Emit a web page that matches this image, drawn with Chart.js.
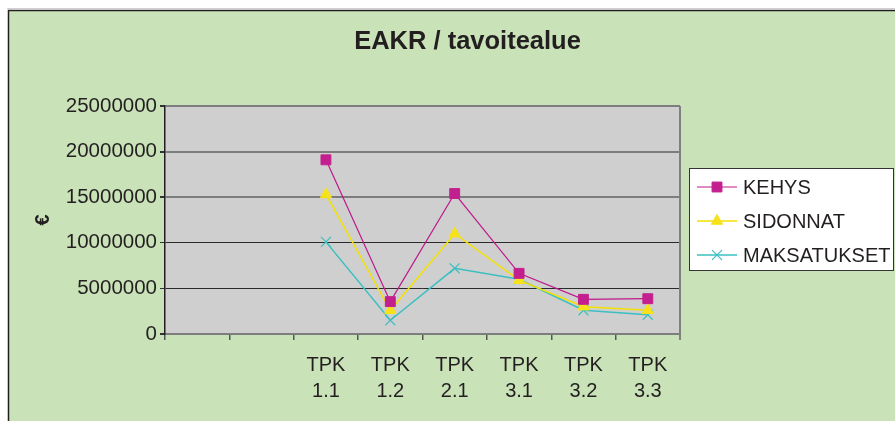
<!DOCTYPE html>
<html>
<head>
<meta charset="utf-8">
<script src="https://cdn.jsdelivr.net/npm/chart.js@4/dist/chart.umd.min.js"></script>
<style>
  html, body { margin: 0; padding: 0; background: #ffffff; }
  #wrap { position: absolute; left: 0; top: 0; width: 895px; height: 421px; }
</style>
</head>
<body>
<div id="wrap"><canvas id="c" width="895" height="421"></canvas></div>
<script>
// ---- data ----
const categories = ['', '', ['TPK', '1.1'], ['TPK', '1.2'], ['TPK', '2.1'], ['TPK', '3.1'], ['TPK', '3.2'], ['TPK', '3.3']];
const kehys       = [null, null, 19100000, 3550000, 15400000, 6650000, 3800000, 3870000];
const sidonnat    = [null, null, 15300000, 2600000, 11000000, 5900000, 3000000, 2600000];
const maksatukset = [null, null, 10100000, 1500000, 7200000, 6000000, 2600000, 2100000];
const seriesNames = ['KEHYS', 'SIDONNAT', 'MAKSATUKSET'];
const yTicks = [0, 5000000, 10000000, 15000000, 20000000, 25000000];

const FONT = "'Liberation Sans', Arial, sans-serif";
const TEXT = '#231f20';

const bgPlugin = {
  id: 'bg',
  beforeDraw(chart) {
    const ctx = chart.ctx, a = chart.chartArea;
    ctx.save();
    ctx.fillStyle = '#ffffff';
    ctx.fillRect(0, 0, chart.width, chart.height);
    ctx.fillStyle = '#c9e2b8';
    ctx.fillRect(8, 10, chart.width - 8, chart.height - 10);
    ctx.strokeStyle = '#d0d0d0';
    ctx.lineWidth = 1;
    ctx.beginPath(); ctx.moveTo(7, 8.5); ctx.lineTo(chart.width, 8.5); ctx.stroke();
    ctx.strokeStyle = '#231f20';
    ctx.lineWidth = 1.5;
    ctx.beginPath();
    ctx.moveTo(8.5, chart.height); ctx.lineTo(8.5, 10.5); ctx.lineTo(chart.width, 10.5);
    ctx.stroke();
    ctx.fillStyle = '#cfcfcf';
    ctx.fillRect(a.left, a.top, a.right - a.left, a.bottom - a.top);
    ctx.restore();
  },
  afterDraw(chart) {
    const ctx = chart.ctx, a = chart.chartArea;
    ctx.save();
    ctx.strokeStyle = '#808080';
    ctx.lineWidth = 2;
    ctx.beginPath(); ctx.moveTo(a.right, a.top); ctx.lineTo(a.right, a.bottom + 6); ctx.stroke();
    ctx.restore();
  }
};

const legendPlugin = {
  id: 'boxLegend',
  afterDraw(chart, args, opts) {
    const ctx = chart.ctx;
    ctx.save();
    ctx.fillStyle = '#ffffff';
    ctx.fillRect(opts.x, opts.y, opts.w, opts.h);
    ctx.strokeStyle = '#333333';
    ctx.lineWidth = 1;
    ctx.strokeRect(opts.x + 0.5, opts.y + 0.5, opts.w, opts.h);
    chart.data.datasets.forEach((ds, i) => {
      const y = opts.firstY + i * opts.step;
      const x0 = opts.x + 8, x1 = x0 + 40, xm = (x0 + x1) / 2;
      ctx.strokeStyle = ds.borderColor;
      ctx.lineWidth = ds.borderWidth;
      ctx.beginPath(); ctx.moveTo(x0, y); ctx.lineTo(x1, y); ctx.stroke();
      ctx.fillStyle = ds.pointBackgroundColor;
      ctx.strokeStyle = ds.pointBorderColor;
      ctx.lineWidth = ds.pointBorderWidth;
      Chart.helpers.drawPoint(ctx, {pointStyle: ds.pointStyle, radius: ds.pointRadius, borderWidth: ds.pointBorderWidth, rotation: 0}, xm, y);
      ctx.fillStyle = TEXT;
      ctx.font = '20px ' + FONT;
      ctx.textBaseline = 'middle';
      ctx.textAlign = 'left';
      ctx.fillText(ds.label, x1 + 6, y + 1);
    });
    ctx.restore();
  }
};

function gridColor(ctx) {
  const v = ctx.tick && ctx.tick.value;
  return (v === 10000000 || v === 5000000) ? '#2a2a2a' : '#7d7d7d';
}
function gridWidth(ctx) {
  const v = ctx.tick && ctx.tick.value;
  return (v === 10000000 || v === 5000000) ? 1 : 2;
}

new Chart(document.getElementById('c'), {
  type: 'line',
  data: {
    labels: categories,
    datasets: [
      { label: seriesNames[0], data: kehys, borderColor: '#c0188c', borderWidth: 1.2,
        pointStyle: 'rect', pointRadius: 7, pointBackgroundColor: '#c41f8f', pointBorderColor: '#c41f8f', pointBorderWidth: 1 },
      { label: seriesNames[1], data: sidonnat, borderColor: '#f3e100', borderWidth: 1.5,
        pointStyle: 'triangle', pointRadius: 6.5, pointBackgroundColor: '#f7e21a', pointBorderColor: '#f7e21a', pointBorderWidth: 1 },
      { label: seriesNames[2], data: maksatukset, borderColor: '#3bbfc0', borderWidth: 1.5,
        pointStyle: 'crossRot', pointRadius: 7, pointBackgroundColor: '#3bbfc0', pointBorderColor: '#3bbfc0', pointBorderWidth: 1.2 }
    ]
  },
  options: {
    responsive: false,
    animation: false,
    events: [],
    spanGaps: false,
    layout: { padding: { left: 40, right: 0, top: 0, bottom: 0 } },
    plugins: {
      legend: { display: false },
      tooltip: { enabled: false },
      title: {
        display: true,
        text: 'EAKR / tavoitealue',
        color: TEXT,
        font: { family: FONT, size: 25.5, weight: 'bold', lineHeight: 1.2 },
        padding: { top: 27, bottom: 48.4 }
      },
      boxLegend: { x: 689, y: 168, w: 204, h: 102, firstY: 187, step: 34 }
    },
    scales: {
      x: {
        type: 'category',
        offset: true,
        grid: { display: true, offset: true, drawOnChartArea: false, drawTicks: true, tickLength: 6, color: '#555555', lineWidth: 1.5 },
        border: { display: true, color: '#7d7d7d', width: 2 },
        ticks: { color: TEXT, font: { family: FONT, size: 20, lineHeight: 1.33 }, padding: 12, maxRotation: 0, autoSkip: false },
        afterFit(s) { s.height = 87; }
      },
      y: {
        min: 0, max: 25000000,
        afterBuildTicks(s) { s.ticks = yTicks.map(v => ({ value: v })); },
        grid: { color: gridColor, lineWidth: gridWidth, tickColor: '#333333', tickLength: 5, drawTicks: true },
        border: { display: true, color: '#231f20', width: 1.5 },
        ticks: { color: TEXT, font: { family: FONT, size: 20.5 }, padding: 3, callback: v => String(v) },
        title: { display: true, text: '€', color: TEXT, font: { family: FONT, size: 20, weight: 'bold', lineHeight: 1.2 }, padding: { top: -9, bottom: 0 } },
        afterFit(s) { s.width = 125; }
      },
      y2: {
        position: 'right',
        display: true,
        grid: { display: false },
        border: { display: false },
        ticks: { display: false },
        afterFit(s) { s.width = 215; }
      }
    }
  },
  plugins: [bgPlugin, legendPlugin]
});
</script>
</body>
</html>
